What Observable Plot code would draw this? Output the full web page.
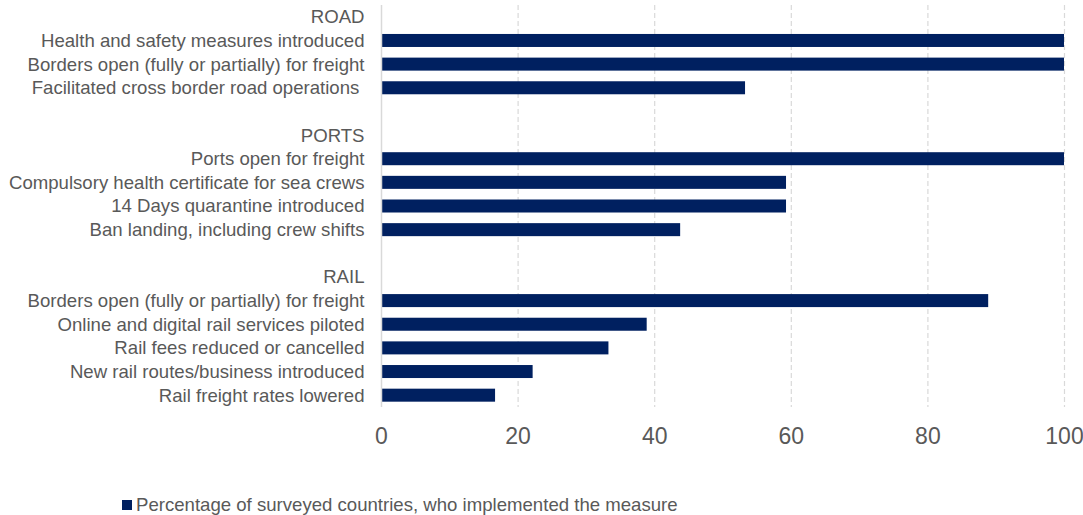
<!DOCTYPE html>
<html>
<head>
<meta charset="utf-8">
<script src="https://cdn.jsdelivr.net/npm/d3@7"></script>
<script src="https://cdn.jsdelivr.net/npm/@observablehq/plot@0.6"></script>
<style>
  html, body { margin: 0; padding: 0; background: #fff; }
  body { width: 1083px; height: 515px; overflow: hidden; font-family: "Liberation Sans", Arial, sans-serif; }
  #legend { padding-left: 122px; padding-top: 17px; font-size: 18.6px; color: #595959; line-height: 20px; display: flex; align-items: center; }
  #legend .sw { width: 10px; height: 10px; background: #002060; margin-right: 4px; display: inline-block; }
</style>
</head>
<body>
<div id="chart"></div>
<div id="legend"><span class="sw"></span><span>Percentage of surveyed countries, who implemented the measure</span></div>
<script>
const rowLabels = [
  "ROAD",
  "Health and safety measures introduced",
  "Borders open (fully or partially) for freight",
  "Facilitated cross border road operations\u00a0",
  "",
  "PORTS",
  "Ports open for freight",
  "Compulsory health certificate for sea crews",
  "14 Days quarantine introduced",
  "Ban landing, including crew shifts",
  "",
  "RAIL",
  "Borders open (fully or partially) for freight",
  "Online and digital rail services piloted",
  "Rail fees reduced or cancelled",
  "New rail routes/business introduced",
  "Rail freight rates lowered"
];
const rowValues = [
  null, 100, 100, 53.3,
  null,
  null, 100, 59.3, 59.3, 43.8,
  null,
  null, 88.9, 38.9, 33.3, 22.2, 16.7
];
const xTicks = [0, 20, 40, 60, 80, 100];
const seriesName = "Percentage of surveyed countries, who implemented the measure";

const data = rowLabels.map((label, i) => ({ i, label, value: rowValues[i] }))
  .filter(d => d.value != null);

const chart = Plot.plot({
  width: 1083,
  height: 478,
  marginLeft: 381,
  marginRight: 19,
  marginTop: 5,
  marginBottom: 71,
  style: { fontFamily: "'Liberation Sans', Arial, sans-serif", overflow: "visible", background: "transparent" },
  x: { domain: [0, 100], ticks: xTicks },
  y: { domain: d3.range(rowLabels.length), paddingInner: 0.45, paddingOuter: 0.225, round: false },
  marks: [
    Plot.gridX(xTicks.filter(t => t > 0), { stroke: "#d9d9d9", strokeOpacity: 1, strokeWidth: 1.2, strokeDasharray: "5,3" }),
    Plot.barX(data, { x: "value", y: "i", fill: "#002060" }),
    Plot.ruleX([0], { stroke: "#d9d9d9", strokeWidth: 1.5 }),
    Plot.axisY({ tickSize: 0, tickPadding: 17, tickFormat: i => rowLabels[i], fontSize: 18.6, fill: "#595959", label: null }),
    Plot.axisX(xTicks, { tickSize: 0, tickPadding: 20, fontSize: 23, fill: "#595959", label: null })
  ]
});
document.getElementById("chart").appendChild(chart);
document.getElementById("legend").lastChild.textContent = seriesName;
</script>
</body>
</html>
